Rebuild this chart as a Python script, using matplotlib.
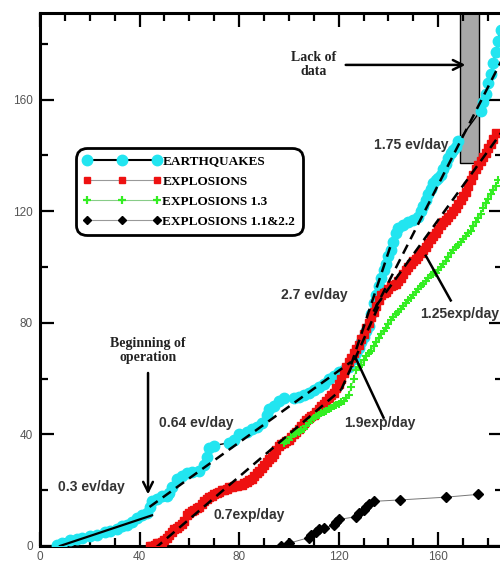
import matplotlib
matplotlib.use("Agg")
import matplotlib.pyplot as plt
from matplotlib.patches import Rectangle
from matplotlib.lines import Line2D

# cumulative number of events vs. day
eq_day = [7, 9, 12, 15, 17, 20, 23, 26, 28, 31, 33, 35, 37, 39, 41, 43, 44, 45, 47, 49,
          51, 52, 53, 55, 57, 59, 61, 64, 66, 67, 68, 70, 76, 78, 80, 83, 85, 87, 89, 91,
          92, 94, 96, 98, 102, 104, 106, 108, 110, 112, 114, 116, 118, 120, 122, 124, 126, 127, 128, 129, 130,
          131, 132, 133, 134, 135, 136, 137, 138, 139, 140, 141, 142, 143, 144, 146, 148, 150, 152, 153, 154,
          155, 156, 157, 158, 159, 160, 161, 162, 163, 164, 165, 166, 167, 168, 177, 178, 179, 180, 181, 182,
          183, 184, 185]
eq_count = [0.5, 1, 2, 2.5, 3, 3.5, 4, 5, 5.5, 6, 7, 7.5, 8.5, 10, 11, 12, 14, 16, 17, 18,
            18, 19, 21, 24, 25, 26, 26.5, 27, 29, 32, 35, 36, 37, 38, 40, 41, 42, 42.5, 44, 47,
            49, 50, 52, 53, 53, 53.5, 54, 55, 56, 57, 58, 60, 61, 62.5, 63, 64, 67, 69, 71, 73, 75,
            77, 79, 83, 87, 90, 93, 96, 99, 101, 104, 106, 109, 112, 114, 115, 116, 117, 118, 120, 122,
            124, 126, 128, 130, 131, 132, 133, 135, 137, 139, 141, 142, 143, 145, 156, 159, 162, 166, 169, 173,
            177, 181, 185]

# explosions: one reading per day
ex_day = list(range(44, 184))
ex_count = [0, 0, 0.5, 1, 1, 1.5, 2, 3, 4, 5, 6, 6.5, 7, 8, 9, 11, 12, 12.5, 13, 13.5,
            14, 15, 16, 17, 17.5, 18, 18.5, 19, 19.5, 20, 20, 20.5, 21, 21, 21.5, 21.5, 22, 22, 22.5, 23,
            23.5, 24, 25, 26, 27, 28, 29, 30, 31, 32, 33, 34.5, 36, 36.5, 37, 37.5, 38, 39, 40, 41,
            42, 43, 44, 45, 46, 46.5, 47, 48, 49, 50, 51, 52, 53, 54, 55, 56.5, 58, 60, 62, 64,
            66, 67.5, 69, 70.5, 72, 74, 76, 78, 80, 82, 84, 86, 88, 90, 90.5, 91, 92, 93, 93.5, 94,
            95, 96, 97.5, 99, 100, 101, 102, 103, 104, 105, 106, 107, 108.5, 110, 111, 112, 113.5, 115, 116, 117,
            118, 119, 120, 121, 122.5, 124, 125.5, 127, 129, 131, 133, 135, 136.5, 138, 139.5, 141, 142.5, 144, 146, 148]

ex13_day = list(range(98, 185))
ex13_count = [37, 37.5, 38, 39, 40, 40.5, 41, 41.5, 42, 43, 44, 45, 46, 46.5, 47, 47.5, 48, 48.5, 49, 49.5,
              50, 50.5, 51, 51.5, 52, 53, 54, 57, 60, 63, 64, 65, 66.5, 68, 69, 70, 71.5, 73, 74.5, 76,
              77, 78, 79.5, 81, 82, 83, 84, 85, 86, 87, 88, 89, 90, 91, 92, 93, 94, 95, 96, 97,
              97.5, 98, 99, 100, 101, 102, 103.5, 105, 106, 107, 108, 109, 110, 111, 112, 113, 114.5, 116, 117.5, 119,
              121, 123, 124.5, 126, 127.5, 129, 131]

ex11_day = [97, 100, 108, 109, 111, 112, 114, 118, 119, 120, 127, 128, 130, 131, 132, 134, 144.5, 163, 176]
ex11_count = [0, 1, 3, 4, 5, 6, 6.5, 7.5, 8.5, 9.5, 10.5, 12, 13, 14, 15, 16, 16.5, 17.5, 18.5]

# rate fits: (day_start, day_end), (count_start, count_end)
eq_fit_early = ([8, 45], [0, 11])
eq_fits = [([44, 125], [14, 66]),
           ([125, 141], [65, 108]),
           ([134, 186], [84, 175])]
ex_fits = [([46, 121], [-1, 56]),
           ([121, 137], [56, 88]),
           ([135, 186], [86, 149])]

gap_days = (168.7, 176.3)
gap_floor = 137.3

labels = ["EARTHQUAKES", "EXPLOSIONS", "EXPLOSIONS 1.3", "EXPLOSIONS 1.1&2.2"]

serif = "Liberation Serif"
sans = "Liberation Sans"

fig = plt.figure(figsize=(5, 5.66), dpi=100)
ax = fig.add_axes([40 / 500, 1 - 546 / 566, 463 / 500, 533 / 566])

# missing-data band
ax.add_patch(Rectangle((gap_days[0], gap_floor), gap_days[1] - gap_days[0], 100,
                       facecolor="#a8a8a8", edgecolor="black", lw=1.0, zorder=1))

ax.plot(eq_day, eq_count, color="black", lw=1.0, marker="o", ms=7.5,
        mfc="#22e5f0", mec="#22e5f0", zorder=3)
ax.plot(ex_day, ex_count, color="#777777", lw=0.6, marker="s", ms=5.2,
        mfc="#ee1111", mec="#ee1111", zorder=4)
ax.plot(ex13_day, ex13_count, color="#55dd44", lw=0.6, marker="+", ms=6,
        mec="#33ee22", mew=1.5, zorder=4)
ax.plot(ex11_day, ex11_count, color="#777777", lw=0.7, marker="D", ms=5,
        mfc="black", mec="black", zorder=4)

ax.plot(*eq_fit_early, color="black", lw=1.6, zorder=5)
for xs, ys in eq_fits + ex_fits:
    ax.plot(xs, ys, color="black", lw=1.8, ls=(0, (4, 2.5)), zorder=5)

ax.set_xlim(0, 186)
ax.set_ylim(0, 191)
ax.set_xticks(range(0, 181, 40))
ax.set_xticks(range(0, 186, 10), minor=True)
ax.set_yticks(range(0, 181, 40))
ax.set_yticks(range(0, 191, 20), minor=True)
ax.tick_params(which="both", direction="in", top=True, right=True, width=1.6,
               labelsize=8.5, labelcolor="#555555")
ax.tick_params(which="major", length=10)
ax.tick_params(which="minor", length=5.5)
ax.tick_params(axis="y", pad=5)
ax.tick_params(axis="x", pad=3.5)
for lab in ax.get_xticklabels() + ax.get_yticklabels():
    lab.set_family(sans)
for sp in ax.spines.values():
    sp.set_linewidth(2.2)

# rate labels
rate_style = dict(fontsize=10, fontweight="bold", color="#333333", family=sans,
                  ha="center", va="center", zorder=6)
ax.text(20.5, 21, "0.3 ev/day", **rate_style)
ax.text(62.6, 44, "0.64 ev/day", **rate_style)
ax.text(84, 11, "0.7exp/day", **rate_style)
ax.text(110, 90, "2.7 ev/day", **rate_style)
ax.text(136.5, 44, "1.9exp/day", **rate_style)
ax.text(149, 143.7, "1.75 ev/day", **rate_style)
ax.text(152.6, 83, "1.25exp/day", **dict(rate_style, ha="left"), clip_on=False)
ax.plot([127, 138], [67, 46], color="black", lw=1.8, zorder=6)
ax.plot([155, 165], [104, 88], color="black", lw=1.8, zorder=6)

note_style = dict(fontsize=10, fontweight="bold", family=serif, color="#222222",
                  ha="center", va="center", linespacing=1.1)
ax.text(43.4, 70, "Beginning of\noperation", **note_style)
ax.annotate("", xy=(43.4, 17.5), xytext=(43.4, 63),
            arrowprops=dict(arrowstyle="->,head_length=0.7,head_width=0.35", lw=1.8, color="black"))
ax.text(110, 172.4, "Lack of\ndata", **note_style)
ax.annotate("", xy=(172, 172.4), xytext=(121.7, 172.4),
            arrowprops=dict(arrowstyle="->,head_length=0.7,head_width=0.35", lw=1.8, color="black"))

handles = [
    Line2D([], [], color="black", lw=1.5, marker="o", ms=7.5, mfc="#22e5f0", mec="#22e5f0"),
    Line2D([], [], color="#999999", lw=0.8, marker="s", ms=4.8, mfc="#ee1111", mec="#ee1111"),
    Line2D([], [], color="#88cc88", lw=0.8, marker="+", ms=6, mec="#33ee22", mew=1.6),
    Line2D([], [], color="#999999", lw=0.8, marker="D", ms=4, mfc="black", mec="black"),
]
leg = ax.legend(handles, labels, loc="upper left", bbox_to_anchor=(76 / 500, 1 - 148 / 566),
                bbox_transform=fig.transFigure, numpoints=3, handlelength=5.9, handletextpad=0.1,
                labelspacing=0.6, borderpad=0.55, borderaxespad=0, fancybox=True, framealpha=1,
                edgecolor="black", prop=dict(family=serif, weight="bold", size=9.5))
leg.get_frame().set_linewidth(2)
leg.get_frame().set_boxstyle("round,pad=0,rounding_size=0.8")

fig.savefig("out.png", dpi=100)
